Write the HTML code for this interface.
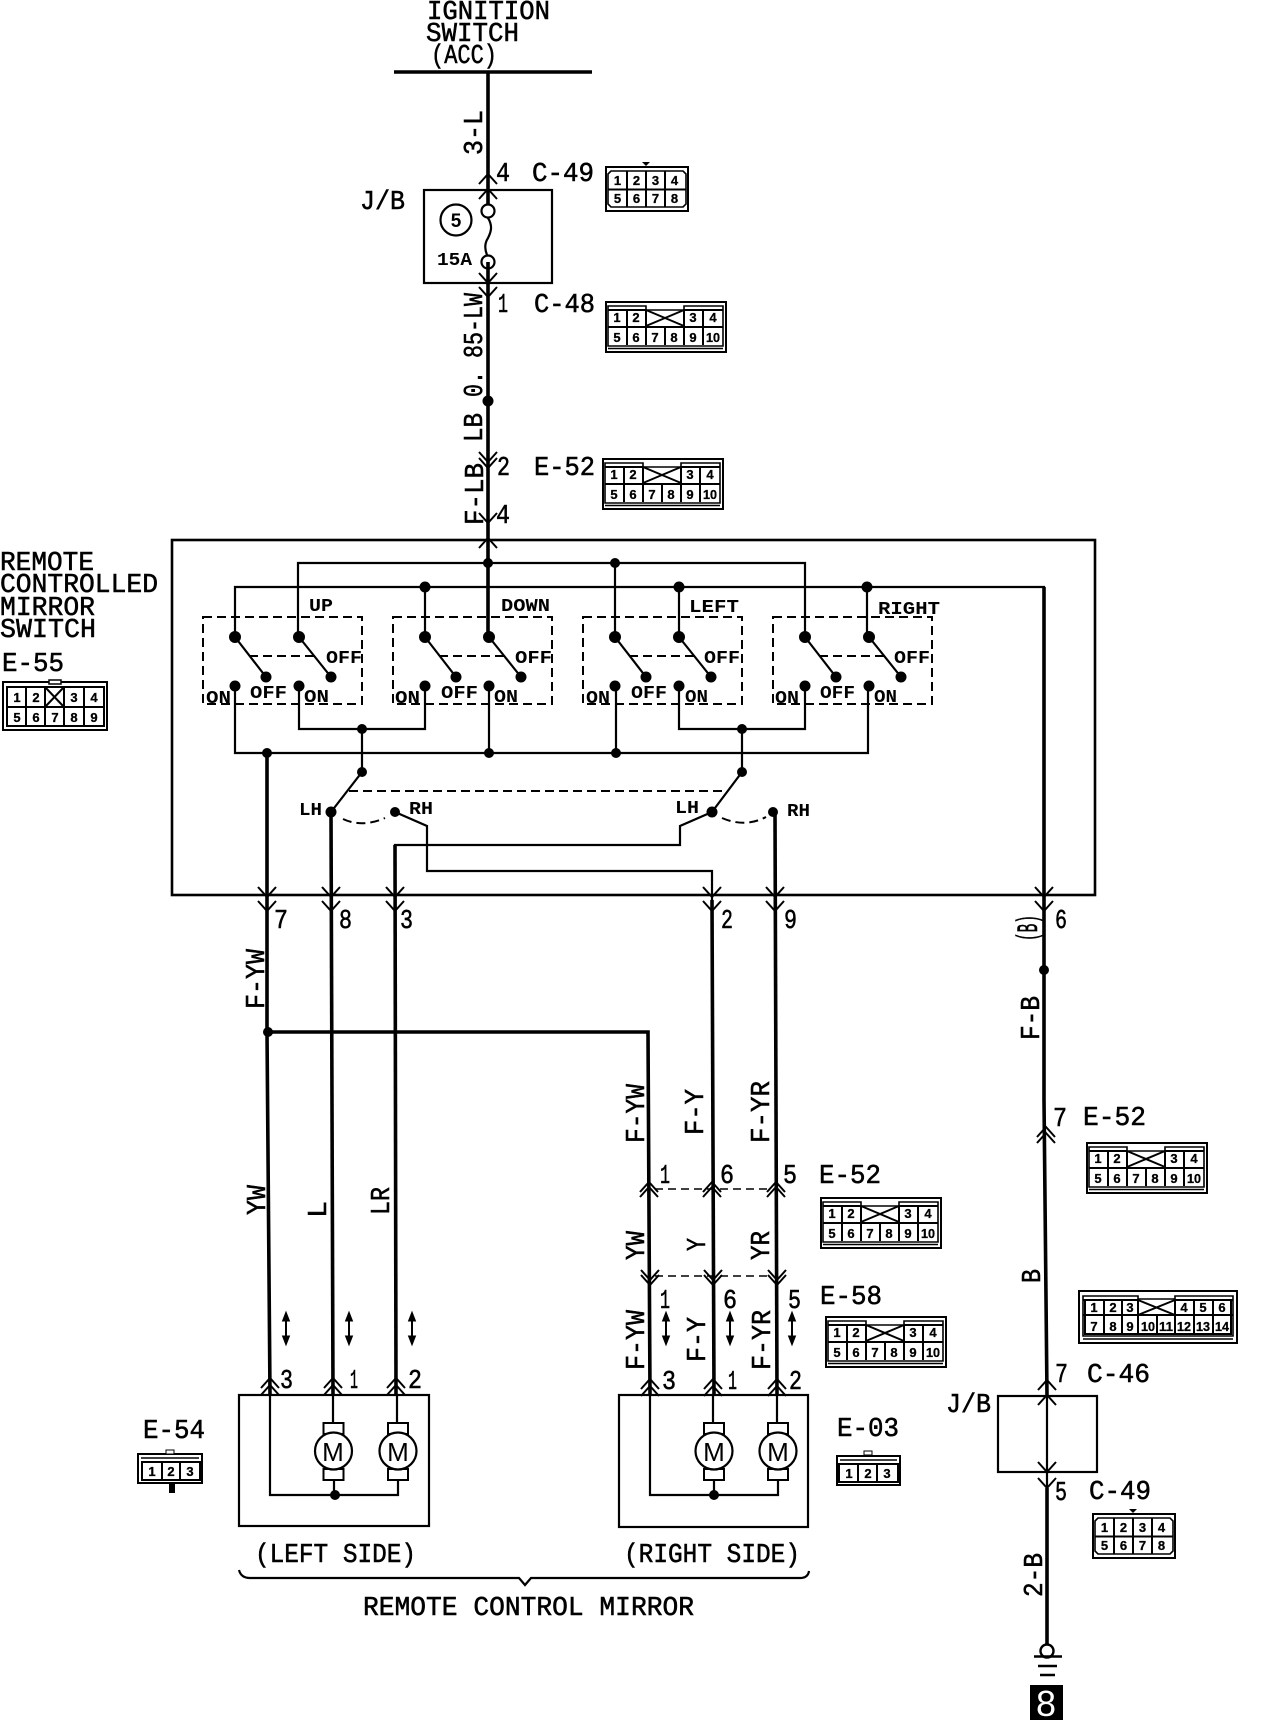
<!DOCTYPE html>
<html>
<head>
<meta charset="utf-8">
<style>
html,body{margin:0;padding:0;background:#fff;}
svg{display:block;}
.t{font-family:"Liberation Mono",monospace;font-size:27px;fill:#000;stroke:#000;stroke-width:.55px;}
.s{font-family:"Liberation Mono",monospace;font-size:18px;font-weight:bold;fill:#000;}
.d{font-family:"Liberation Sans",sans-serif;font-size:13px;font-weight:bold;fill:#000;stroke:#000;stroke-width:.3px;text-anchor:middle;}
.m{font-family:"Liberation Sans",sans-serif;font-size:26px;fill:#000;text-anchor:middle;}
.w{fill:none;stroke:#000;stroke-width:3.6;}
.n{fill:none;stroke:#000;stroke-width:2.2;}
.k{fill:none;stroke:#000;stroke-width:2;}
.da{fill:none;stroke:#000;stroke-width:2;stroke-dasharray:9 5;}
.c{fill:none;stroke:#000;stroke-width:1.6;}
</style>
</head>
<body>
<svg width="1264" height="1720" viewBox="0 0 1264 1720" xmlns="http://www.w3.org/2000/svg">
<defs>
<path id="u" d="M-9 10L0 0L9 10" fill="none" stroke="#000" stroke-width="2"/>
<path id="v" d="M-9 -10L0 0L9 -10" fill="none" stroke="#000" stroke-width="2"/>
<g id="ar">
<path d="M0 4V29" stroke="#000" stroke-width="2"/>
<path d="M-3.5 9L0 0L3.5 9ZM-3.5 24L0 33L3.5 24Z" fill="#000" stroke="#000"/>
</g>
<g id="c10">
<rect x="1" y="1" width="120" height="50" class="k" stroke-width="2.4"/>
<path class="c" d="M3 45V5H41L41 9H79V5H118V45Z"/>
<path class="c" d="M3 47.5H118"/>
<path class="k" d="M3 26H41M79 26H118M41 26H79M22 9V44M41 9V44M60 26V44M79 9V44M98 9V44M41 9L79 25M79 9L41 25M3 9H41M79 9H118"/>
</g>
<g id="c8">
<rect x="1" y="1" width="82" height="44" class="k"/>
<path class="c" d="M3 8L6 5H78L81 8V38L78 41H6L3 38Z"/>
<path class="k" d="M3 23.5H81M22 5V41M41 5V41M60 5V41"/>
<path d="M37 -4H45L41 0Z" fill="#000"/>
</g>
<g id="sw">
<rect x="0" y="0" width="159" height="87" class="da"/>
<path class="da" d="M46 39H111" />
<path class="n" d="M32 20L63 60M96 20L128 60" stroke-width="2.6"/>
<circle cx="32" cy="20" r="6"/><circle cx="96" cy="20" r="6"/>
<circle cx="63" cy="60" r="5.500"/><circle cx="128" cy="60" r="5.500"/>
<circle cx="32" cy="69" r="5.500"/><circle cx="96" cy="69" r="5.500"/>
</g>
<g id="mot">
<rect x="-10" y="-28" width="20" height="11" fill="#fff" stroke="#000" stroke-width="2"/>
<rect x="-10" y="18" width="20" height="11" fill="#fff" stroke="#000" stroke-width="2"/>
<circle cx="0" cy="0" r="18.5" fill="#fff" stroke="#000" stroke-width="2.2"/>
</g>
</defs>

<!-- Ignition -->
<text class="t" x="427" y="19" textLength="123" lengthAdjust="spacingAndGlyphs">IGNITION</text>
<text class="t" x="426" y="41" textLength="93" lengthAdjust="spacingAndGlyphs">SWITCH</text>
<text class="t" x="431" y="63" textLength="66" lengthAdjust="spacingAndGlyphs">(ACC)</text>
<path d="M394 72H592" stroke="#000" stroke-width="3.6"/>
<path class="w" d="M488 72V204M488 262V637"/>
<use href="#u" x="488" y="174"/><use href="#u" x="488" y="189"/>
<use href="#v" x="488" y="283"/><use href="#v" x="488" y="297"/>
<use href="#v" x="488" y="462"/><use href="#v" x="488" y="468"/>
<use href="#v" x="488" y="523"/><use href="#u" x="488" y="538"/>
<text class="t" transform="translate(482,155) rotate(-90)" x="0" y="0" textLength="45" lengthAdjust="spacingAndGlyphs">3-L</text>
<text class="t" x="496" y="181" textLength="14" lengthAdjust="spacingAndGlyphs">4</text>
<text class="t" x="532" y="181" textLength="62" lengthAdjust="spacingAndGlyphs">C-49</text>
<g transform="translate(605,166)"><use href="#c8"/><text class="d" x="12.5 31.5 50.5 69.5" y="19">1234</text><text class="d" x="12.5 31.5 50.5 69.5" y="37">5678</text></g>
<text class="t" x="360" y="209" textLength="45" lengthAdjust="spacingAndGlyphs">J/B</text>
<rect x="424" y="190" width="128" height="93" class="n"/>
<circle cx="456" cy="220" r="15.5" class="n"/>
<text class="m" x="456" y="227" style="font-size:19px;font-weight:bold">5</text>
<circle cx="488" cy="211" r="6.5" class="n" fill="#fff"/>
<circle cx="488" cy="262" r="6.5" class="n" fill="#fff"/>
<path class="n" d="M488 218C493 226 491 232 488 238C484 244 485 250 487 255"/>
<text class="s" x="437" y="265" textLength="35" lengthAdjust="spacingAndGlyphs">15A</text>
<text class="t" x="498" y="312" textLength="10" lengthAdjust="spacingAndGlyphs">1</text>
<text class="t" x="534" y="312" textLength="61" lengthAdjust="spacingAndGlyphs">C-48</text>
<g transform="translate(605,301)"><use href="#c10"/><text class="d" x="12 31 88 108" y="21">1234</text><text class="d" x="12 31 50 69 88" y="41">56789</text><text class="d" x="108" y="41" textLength="14" lengthAdjust="spacingAndGlyphs">10</text></g>
<circle cx="488" cy="401" r="5.5"/>
<text class="t" transform="translate(482,397) rotate(-90)" textLength="104" lengthAdjust="spacingAndGlyphs">0. 85-LW</text>
<text class="t" transform="translate(482,442) rotate(-90)" textLength="29" lengthAdjust="spacingAndGlyphs">LB</text>
<text class="t" transform="translate(483,525) rotate(-90)" textLength="62" lengthAdjust="spacingAndGlyphs">F-LB</text>
<text class="t" x="497" y="475" textLength="13" lengthAdjust="spacingAndGlyphs">2</text>
<text class="t" x="534" y="475" textLength="61" lengthAdjust="spacingAndGlyphs">E-52</text>
<g transform="translate(602,458)"><use href="#c10"/><text class="d" x="12 31 88 108" y="21">1234</text><text class="d" x="12 31 50 69 88" y="41">56789</text><text class="d" x="108" y="41" textLength="14" lengthAdjust="spacingAndGlyphs">10</text></g>
<text class="t" x="496" y="523" textLength="14" lengthAdjust="spacingAndGlyphs">4</text>

<!-- left title -->
<text class="t" x="0" y="570" textLength="94" lengthAdjust="spacingAndGlyphs">REMOTE</text>
<text class="t" x="0" y="592" textLength="158" lengthAdjust="spacingAndGlyphs">CONTROLLED</text>
<text class="t" x="0" y="615" textLength="95" lengthAdjust="spacingAndGlyphs">MIRROR</text>
<text class="t" x="0" y="637" textLength="96" lengthAdjust="spacingAndGlyphs">SWITCH</text>
<text class="t" x="2" y="671" textLength="62" lengthAdjust="spacingAndGlyphs">E-55</text>
<g transform="translate(2,681)">
<rect x="1" y="1" width="104" height="48" class="k" stroke-width="2.4"/>
<path class="k" d="M5 6H102V45H5ZM5 26H102M24 6V45M43 6V45M62 6V45M82 6V45M43 6L62 26M62 6L43 26"/>
<path d="M47 -1H59V3H47Z" fill="#fff" stroke="#000" stroke-width="1.5"/>
<text class="d" x="15 34 72 92" y="21">1234</text><text class="d" x="15 34 53 72 92" y="41">56789</text>
</g>

<!-- frame -->
<rect x="172" y="540" width="923" height="355" fill="none" stroke="#000" stroke-width="2.6"/>
<path class="n" d="M298 637V563H805V637" stroke-width="2.6"/>
<path class="n" d="M235 637V587H1044V894" stroke-width="2.6"/>
<path class="n" d="M425 587V637M679 587V637M867 587V637M615 563V637" stroke-width="2.6"/>
<circle cx="488" cy="563" r="5"/><circle cx="615" cy="563" r="5"/>
<circle cx="425" cy="587" r="5.5"/><circle cx="679" cy="587" r="5.5"/><circle cx="867" cy="587" r="5.5"/>

<use href="#sw" x="203" y="617"/><use href="#sw" x="393" y="617"/><use href="#sw" x="583" y="617"/><use href="#sw" x="773" y="617"/>

<text class="s" x="309" y="611" textLength="24" lengthAdjust="spacingAndGlyphs">UP</text>
<text class="s" x="501" y="611" textLength="49" lengthAdjust="spacingAndGlyphs">DOWN</text>
<text class="s" x="689" y="612" textLength="50" lengthAdjust="spacingAndGlyphs">LEFT</text>
<text class="s" x="878" y="614" textLength="62" lengthAdjust="spacingAndGlyphs">RIGHT</text>

<text class="s" x="326" y="663" textLength="36" lengthAdjust="spacingAndGlyphs">OFF</text>
<text class="s" x="515" y="663" textLength="37" lengthAdjust="spacingAndGlyphs">OFF</text>
<text class="s" x="704" y="663" textLength="36" lengthAdjust="spacingAndGlyphs">OFF</text>
<text class="s" x="894" y="663" textLength="36" lengthAdjust="spacingAndGlyphs">OFF</text>
<text class="s" x="250" y="698" textLength="37" lengthAdjust="spacingAndGlyphs">OFF</text>
<text class="s" x="441" y="698" textLength="37" lengthAdjust="spacingAndGlyphs">OFF</text>
<text class="s" x="631" y="698" textLength="36" lengthAdjust="spacingAndGlyphs">OFF</text>
<text class="s" x="820" y="698" textLength="35" lengthAdjust="spacingAndGlyphs">OFF</text>
<text class="s" x="206" y="703" textLength="25" lengthAdjust="spacingAndGlyphs">ON</text>
<text class="s" x="395" y="703" textLength="25" lengthAdjust="spacingAndGlyphs">ON</text>
<text class="s" x="586" y="703" textLength="24" lengthAdjust="spacingAndGlyphs">ON</text>
<text class="s" x="775" y="703" textLength="24" lengthAdjust="spacingAndGlyphs">ON</text>
<text class="s" x="304" y="702" textLength="25" lengthAdjust="spacingAndGlyphs">ON</text>
<text class="s" x="494" y="702" textLength="24" lengthAdjust="spacingAndGlyphs">ON</text>
<text class="s" x="685" y="702" textLength="23" lengthAdjust="spacingAndGlyphs">ON</text>
<text class="s" x="874" y="702" textLength="23" lengthAdjust="spacingAndGlyphs">ON</text>

<path class="n" d="M235 686V753H868V686M489 686V753M616 686V753" stroke-width="2.8"/>
<path class="n" d="M299 686V729H425V686M679 686V729H805V686" stroke-width="2.4"/>
<path class="n" d="M362 729V772L331 812M742 729V772L712 812" stroke-width="2.8"/>
<circle cx="267" cy="753" r="5"/><circle cx="489" cy="753" r="5"/><circle cx="616" cy="753" r="5"/>
<circle cx="362" cy="729" r="5"/><circle cx="742" cy="729" r="5"/>
<circle cx="362" cy="772" r="5"/><circle cx="742" cy="772" r="5"/>
<path class="da" d="M349 791H728"/>
<circle cx="331" cy="812" r="5.5"/><circle cx="395" cy="812" r="5"/>
<circle cx="712" cy="812" r="5.5"/><circle cx="773" cy="812" r="5"/>
<path class="da" d="M343 819Q362 828 385 818M722 818Q745 828 766 817" stroke-dasharray="6 4"/>
<path class="n" d="M395 812L427 826V871H712V960" stroke-width="2.6"/>
<path class="n" d="M712 812L680 826V845H395V960" stroke-width="2"/>
<text class="s" x="299" y="815" textLength="23" lengthAdjust="spacingAndGlyphs">LH</text>
<text class="s" x="409" y="814" textLength="24" lengthAdjust="spacingAndGlyphs">RH</text>
<text class="s" x="675" y="813" textLength="24" lengthAdjust="spacingAndGlyphs">LH</text>
<text class="s" x="787" y="816" textLength="23" lengthAdjust="spacingAndGlyphs">RH</text>

<!-- wires down -->
<path class="w" d="M267 753V1032L270 1395"/>
<path class="w" d="M331 812L333 1395"/>
<path class="w" d="M395 845L396 1395"/>
<path class="w" d="M712 900L714 1395"/>
<path class="w" d="M775 812L777 1395"/>
<path class="w" d="M268 1032H648L650 1395"/>
<path class="w" d="M1044 587V1100L1047 1396"/>
<path class="w" d="M1047 1488V1646"/>
<path class="n" d="M1047 1396V1488"/>
<circle cx="268" cy="1032" r="5"/><circle cx="1044" cy="970" r="5"/>

<use href="#v" x="267" y="897"/><use href="#v" x="267" y="911"/>
<use href="#v" x="331" y="897"/><use href="#v" x="331" y="911"/>
<use href="#v" x="395" y="897"/><use href="#v" x="395" y="911"/>
<use href="#v" x="712" y="897"/><use href="#v" x="712" y="911"/>
<use href="#v" x="775" y="897"/><use href="#v" x="775" y="911"/>
<use href="#v" x="1044" y="897"/><use href="#v" x="1044" y="911"/>

<text class="t" x="274" y="928" textLength="14" lengthAdjust="spacingAndGlyphs">7</text>
<text class="t" x="339" y="928" textLength="13" lengthAdjust="spacingAndGlyphs">8</text>
<text class="t" x="400" y="928" textLength="13" lengthAdjust="spacingAndGlyphs">3</text>
<text class="t" x="721" y="928" textLength="12" lengthAdjust="spacingAndGlyphs">2</text>
<text class="t" x="784" y="928" textLength="13" lengthAdjust="spacingAndGlyphs">9</text>
<text class="t" x="1055" y="928" textLength="12" lengthAdjust="spacingAndGlyphs">6</text>
<text class="t" transform="translate(1037,941) rotate(-90)" textLength="26" lengthAdjust="spacingAndGlyphs" style="font-size:30px">(B)</text>

<text class="t" transform="translate(264,1009) rotate(-90)" textLength="60" lengthAdjust="spacingAndGlyphs">F-YW</text>
<text class="t" transform="translate(265,1215) rotate(-90)" textLength="30" lengthAdjust="spacingAndGlyphs">YW</text>
<text class="t" transform="translate(326,1218) rotate(-90)" textLength="17" lengthAdjust="spacingAndGlyphs">L</text>
<text class="t" transform="translate(389,1215) rotate(-90)" textLength="28" lengthAdjust="spacingAndGlyphs">LR</text>

<text class="t" transform="translate(644,1143) rotate(-90)" textLength="59" lengthAdjust="spacingAndGlyphs">F-YW</text>
<text class="t" transform="translate(703,1135) rotate(-90)" textLength="46" lengthAdjust="spacingAndGlyphs">F-Y</text>
<text class="t" transform="translate(769,1143) rotate(-90)" textLength="62" lengthAdjust="spacingAndGlyphs">F-YR</text>
<text class="t" transform="translate(644,1260) rotate(-90)" textLength="29" lengthAdjust="spacingAndGlyphs">YW</text>
<text class="t" transform="translate(705,1251) rotate(-90)" textLength="13" lengthAdjust="spacingAndGlyphs">Y</text>
<text class="t" transform="translate(769,1260) rotate(-90)" textLength="29" lengthAdjust="spacingAndGlyphs">YR</text>
<text class="t" transform="translate(644,1370) rotate(-90)" textLength="60" lengthAdjust="spacingAndGlyphs">F-YW</text>
<text class="t" transform="translate(705,1362) rotate(-90)" textLength="45" lengthAdjust="spacingAndGlyphs">F-Y</text>
<text class="t" transform="translate(770,1370) rotate(-90)" textLength="60" lengthAdjust="spacingAndGlyphs">F-YR</text>

<!-- E-52 / E-58 row -->
<use href="#u" x="649" y="1182"/><use href="#u" x="649" y="1187"/>
<use href="#u" x="712" y="1182"/><use href="#u" x="712" y="1187"/>
<use href="#u" x="776" y="1182"/><use href="#u" x="776" y="1187"/>
<path class="c" d="M655 1189H770" stroke-dasharray="8 5"/>
<use href="#v" x="650" y="1280"/><use href="#v" x="650" y="1285"/>
<use href="#v" x="713" y="1280"/><use href="#v" x="713" y="1285"/>
<use href="#v" x="777" y="1280"/><use href="#v" x="777" y="1285"/>
<path class="c" d="M655 1276H770" stroke-dasharray="8 5"/>
<text class="t" x="660" y="1183" textLength="10" lengthAdjust="spacingAndGlyphs">1</text>
<text class="t" x="720" y="1183" textLength="14" lengthAdjust="spacingAndGlyphs">6</text>
<text class="t" x="783" y="1183" textLength="14" lengthAdjust="spacingAndGlyphs">5</text>
<text class="t" x="819" y="1183" textLength="62" lengthAdjust="spacingAndGlyphs">E-52</text>
<g transform="translate(820,1197)"><use href="#c10"/><text class="d" x="12 31 88 108" y="21">1234</text><text class="d" x="12 31 50 69 88" y="41">56789</text><text class="d" x="108" y="41" textLength="14" lengthAdjust="spacingAndGlyphs">10</text></g>
<text class="t" x="660" y="1308" textLength="10" lengthAdjust="spacingAndGlyphs">1</text>
<text class="t" x="723" y="1308" textLength="14" lengthAdjust="spacingAndGlyphs">6</text>
<text class="t" x="788" y="1308" textLength="13" lengthAdjust="spacingAndGlyphs">5</text>
<text class="t" x="820" y="1304" textLength="62" lengthAdjust="spacingAndGlyphs">E-58</text>
<g transform="translate(825,1316)"><use href="#c10"/><text class="d" x="12 31 88 108" y="21">1234</text><text class="d" x="12 31 50 69 88" y="41">56789</text><text class="d" x="108" y="41" textLength="14" lengthAdjust="spacingAndGlyphs">10</text></g>
<use href="#ar" x="286" y="1312"/><use href="#ar" x="349" y="1312"/><use href="#ar" x="412" y="1312"/>
<use href="#ar" x="666" y="1312"/><use href="#ar" x="730" y="1312"/><use href="#ar" x="792" y="1312"/>

<!-- Left motor box -->
<use href="#u" x="270" y="1378"/><use href="#u" x="270" y="1385"/>
<use href="#u" x="333" y="1378"/><use href="#u" x="333" y="1385"/>
<use href="#u" x="396" y="1378"/><use href="#u" x="396" y="1385"/>
<rect x="239" y="1395" width="190" height="131" class="n"/>
<path class="n" d="M270 1395V1495H398V1480M333 1395V1423M397 1395V1423M334 1480V1495"/>
<use href="#mot" x="333.500" y="1451"/><use href="#mot" x="398" y="1451"/>
<text class="m" x="333" y="1461">M</text><text class="m" x="398" y="1461">M</text>
<circle cx="335" cy="1495" r="5"/>
<text class="t" x="280" y="1388" textLength="13" lengthAdjust="spacingAndGlyphs">3</text>
<text class="t" x="350" y="1388" textLength="8" lengthAdjust="spacingAndGlyphs">1</text>
<text class="t" x="408" y="1388" textLength="14" lengthAdjust="spacingAndGlyphs">2</text>
<text class="t" x="143" y="1438" textLength="62" lengthAdjust="spacingAndGlyphs">E-54</text>
<g transform="translate(137,1453)">
<rect x="1" y="1" width="64" height="29" class="k"/>
<path class="c" d="M4 5H62"/>
<path class="k" d="M5 9H63V27H5ZM25 9V27M43 9V27"/>
<rect x="29" y="-3" width="8" height="4" fill="#fff" stroke="#000"/>
<rect x="32" y="31" width="6" height="9"/>
<text class="d" x="15 34 53" y="23">123</text>
</g>

<!-- Right motor box -->
<use href="#u" x="650" y="1379"/><use href="#u" x="650" y="1386"/>
<use href="#u" x="713" y="1379"/><use href="#u" x="713" y="1386"/>
<use href="#u" x="777" y="1379"/><use href="#u" x="777" y="1386"/>
<rect x="619" y="1395" width="189" height="132" class="n"/>
<path class="n" d="M650 1395V1495H778V1480M713 1395V1423M777 1395V1423M714 1480V1495"/>
<use href="#mot" x="714" y="1451"/><use href="#mot" x="778" y="1451"/>
<text class="m" x="714" y="1461">M</text><text class="m" x="778" y="1461">M</text>
<circle cx="714" cy="1495" r="5"/>
<text class="t" x="662" y="1389" textLength="14" lengthAdjust="spacingAndGlyphs">3</text>
<text class="t" x="728" y="1389" textLength="9" lengthAdjust="spacingAndGlyphs">1</text>
<text class="t" x="789" y="1389" textLength="13" lengthAdjust="spacingAndGlyphs">2</text>
<text class="t" x="837" y="1436" textLength="62" lengthAdjust="spacingAndGlyphs">E-03</text>
<g transform="translate(836,1455)">
<rect x="1" y="1" width="63" height="29" class="k"/>
<path class="c" d="M4 5H61"/>
<path class="k" d="M3 9H62V27H3ZM22 9V27M41 9V27"/>
<rect x="28" y="-4" width="8" height="4" fill="#fff" stroke="#000"/>
<text class="d" x="13 32 51" y="23">123</text>
</g>

<text class="t" x="255" y="1562" textLength="161" lengthAdjust="spacingAndGlyphs">(LEFT SIDE)</text>
<text class="t" x="624" y="1562" textLength="176" lengthAdjust="spacingAndGlyphs">(RIGHT SIDE)</text>
<path class="n" d="M239 1570Q241 1578 250 1578H519L525 1585L531 1578H800Q808 1578 809 1571"/>
<text class="t" x="363" y="1615" textLength="331" lengthAdjust="spacingAndGlyphs" xml:space="preserve">REMOTE CONTROL MIRROR</text>

<!-- right side -->
<text class="t" transform="translate(1039,1040) rotate(-90)" textLength="44" lengthAdjust="spacingAndGlyphs">F-B</text>
<use href="#u" x="1046" y="1127"/><use href="#u" x="1046" y="1133"/>
<text class="t" x="1053" y="1126" textLength="14" lengthAdjust="spacingAndGlyphs">7</text>
<text class="t" x="1083" y="1125" textLength="63" lengthAdjust="spacingAndGlyphs">E-52</text>
<g transform="translate(1086,1142)"><use href="#c10"/><text class="d" x="12 31 88 108" y="21">1234</text><text class="d" x="12 31 50 69 88" y="41">56789</text><text class="d" x="108" y="41" textLength="14" lengthAdjust="spacingAndGlyphs">10</text></g>
<text class="t" transform="translate(1040,1283) rotate(-90)" textLength="14" lengthAdjust="spacingAndGlyphs">B</text>

<g transform="translate(1078,1290)">
<rect x="1" y="1" width="158" height="52" class="k" stroke-width="2.4"/>
<path class="c" d="M5 6H60L60 9H97L97 6H155V46H5Z"/>
<path class="c" d="M5 49H155"/>
<path class="k" d="M5 10H60M97 10H155M5 25H155M7 10V44H153V10M26 10V44M44 10V44M60 10V44M79 25V44M97 10V44M116 10V44M135 10V44M60 10L97 25M97 10L60 25"/>
<text class="d" x="16 35 52 106 125 144" y="22">123456</text>
<text class="d" x="16 35 52" y="41">789</text>
<text class="d" x="70" y="41" textLength="14" lengthAdjust="spacingAndGlyphs">10</text>
<text class="d" x="88" y="41" textLength="14" lengthAdjust="spacingAndGlyphs">11</text>
<text class="d" x="106" y="41" textLength="14" lengthAdjust="spacingAndGlyphs">12</text>
<text class="d" x="125" y="41" textLength="14" lengthAdjust="spacingAndGlyphs">13</text>
<text class="d" x="144" y="41" textLength="14" lengthAdjust="spacingAndGlyphs">14</text>
</g>

<text class="t" x="1055" y="1382" textLength="13" lengthAdjust="spacingAndGlyphs">7</text>
<text class="t" x="1087" y="1382" textLength="63" lengthAdjust="spacingAndGlyphs">C-46</text>
<text class="t" x="946" y="1412" textLength="45" lengthAdjust="spacingAndGlyphs">J/B</text>
<rect x="998" y="1396" width="99" height="76" class="n"/>
<use href="#u" x="1047" y="1380"/><use href="#u" x="1047" y="1395"/>
<use href="#v" x="1047" y="1472"/><use href="#v" x="1047" y="1488"/>
<text class="t" x="1055" y="1500" textLength="12" lengthAdjust="spacingAndGlyphs">5</text>
<text class="t" x="1089" y="1499" textLength="62" lengthAdjust="spacingAndGlyphs">C-49</text>
<g transform="translate(1092,1513)"><use href="#c8"/><text class="d" x="12.5 31.5 50.5 69.5" y="19">1234</text><text class="d" x="12.5 31.5 50.5 69.5" y="37">5678</text></g>
<text class="t" transform="translate(1042,1597) rotate(-90)" textLength="44" lengthAdjust="spacingAndGlyphs">2-B</text>

<circle cx="1047" cy="1651" r="6.500" fill="#fff" stroke="#000" stroke-width="2.4"/>
<path d="M1034 1656.500H1062" stroke="#000" stroke-width="2.4"/>
<path d="M1038 1666H1057M1040 1675H1055" stroke="#000" stroke-width="2.6"/>
<rect x="1030" y="1685" width="33" height="35"/>
<text x="1046" y="1716" text-anchor="middle" style="font-family:'Liberation Sans',sans-serif;font-size:36px;fill:#fff;">8</text>
</svg>
</body>
</html>
